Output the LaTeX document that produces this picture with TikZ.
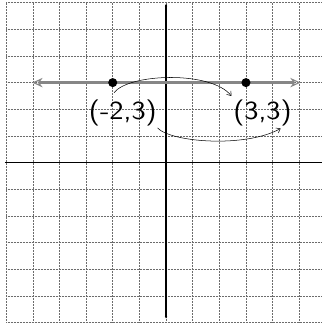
\documentclass[tikz,border=0pt]{standalone}
\usetikzlibrary{arrows.meta}
\begin{document}
\begin{tikzpicture}[x=1cm,y=1cm,
  gridline/.style={gray!85!black, line width=0.55pt, dash pattern=on 0.7pt off 0.9pt},
  axisline/.style={black, line width=1.2pt},
  graphline/.style={gray!95, line width=3.8pt},
  dot/.style={circle, fill=black, inner sep=0pt, minimum size=0.34cm},
  lbl/.style={font=\sffamily\fontsize{28}{28}\selectfont, inner sep=0pt},
  hand/.style={black, line width=0.55pt}
]
\useasboundingbox (-6.23,-6.02) rectangle (5.85,6.10);
\fill[white] (-6.23,-6.02) rectangle (5.85,6.10);
% grid
\draw[gridline] (-6,-6) grid (5.85,6);
% axes
\coordinate (xl) at (-6.05,0);
\coordinate (xr) at (5.85,0);
\coordinate (yt) at (0,5.95);
\coordinate (yb) at (0,-5.85);
\draw[axisline] (xl) -- (xr);
\draw[axisline, {Stealth[length=2.5pt,width=2.5pt]}-{Stealth[length=2.5pt,width=2.5pt]}] (yt) -- (yb);
% line y = 3
\coordinate (L) at (-5.02,3);
\coordinate (R) at (5.05,3);
\draw[graphline, {Stealth[length=11pt,width=10pt,open,line width=1.2pt]}-{Stealth[length=11pt,width=10pt,open,line width=1.2pt]}] (L) -- (R);
% points
\node[dot] (p1) at (-2,3) {};
\node[dot] (p2) at (3,3) {};
% labels
\node[lbl] (l1) at (-1.62,1.88) {\scalebox{1.15}[1]{(-2,3)}};
\node[lbl] (l2) at (3.62,1.88) {\scalebox{1.15}[1]{(3,3)}};
% curved arrows
\coordinate (a1) at (-1.95,2.62);
\coordinate (a2) at (2.45,2.5);
\draw[hand, -{Straight Barb[length=4pt,width=6pt]}] (a1) .. controls (-1.4,3.35) and (1.7,3.45) .. (a2);
\coordinate (b1) at (-0.32,1.3);
\coordinate (b2) at (4.3,1.28);
\draw[hand, -{Straight Barb[length=4pt,width=6pt]}] (b1) .. controls (0.2,0.75) and (3.0,0.55) .. (b2);
\end{tikzpicture}
\end{document}
